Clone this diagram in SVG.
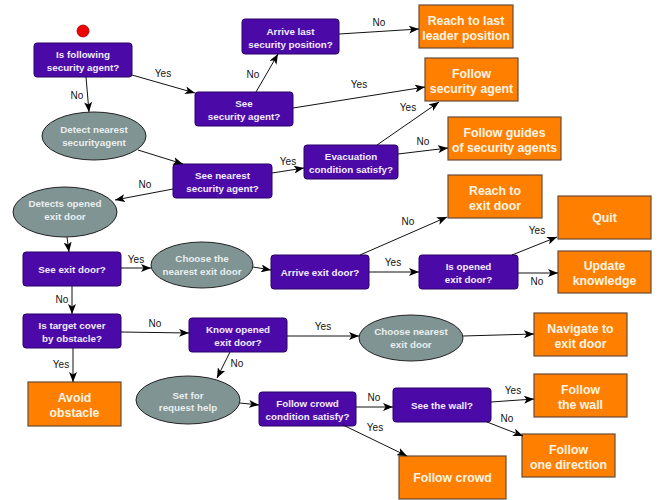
<svg xmlns="http://www.w3.org/2000/svg" width="664" height="500" viewBox="0 0 664 500">
<defs>
<marker id="ah" viewBox="0 0 10 8" refX="10" refY="4" markerWidth="10" markerHeight="8" markerUnits="userSpaceOnUse" orient="auto">
<path d="M0,0 L10,4 L0,8 L2.5,4 z" fill="#000"/>
</marker>
<style>
.d{fill:#4b0aa8;stroke:#2a0066;stroke-width:1}
.a{fill:#ff8000;stroke:#6b4a35;stroke-width:1.2}
.e{fill:#809494;stroke:#222;stroke-width:1}
.dt{font-family:"Liberation Sans",Arial,sans-serif;font-size:9.8px;font-weight:bold;fill:#f2eaff;text-anchor:middle}
.at{font-family:"Liberation Sans",Arial,sans-serif;font-size:12.3px;font-weight:bold;fill:#fff4e6;text-anchor:middle}
.et{font-family:"Liberation Sans",Arial,sans-serif;font-size:9.8px;font-weight:bold;fill:#e8eeee;text-anchor:middle}
.l{font-family:"Liberation Sans",Arial,sans-serif;font-size:10px;fill:#111;text-anchor:middle}
.c{stroke:#111;stroke-width:1;fill:none;marker-end:url(#ah)}
</style>
</defs>
<rect width="664" height="500" fill="#fff"/>
<g id="start"><circle cx="83" cy="31" r="6" fill="#f00000" stroke="#900" stroke-width="0.8"/></g>

<g id="n-following"><rect class="d" x="34" y="43" width="98" height="34" rx="3"/><text class="dt" x="83" y="58">Is following</text><text class="dt" x="83" y="70.5">security agent?</text></g>
<g id="n-arrivelast"><rect class="d" x="242" y="19" width="97" height="35" rx="3"/><text class="dt" x="290.5" y="35">Arrive last</text><text class="dt" x="290.5" y="47.5">security position?</text></g>
<g id="n-reachlast"><rect class="a" x="419" y="5" width="94" height="43"/><text class="at" x="466" y="24.5">Reach to last</text><text class="at" x="466" y="39.5">leader position</text></g>
<g id="n-seesec"><rect class="d" x="195" y="92" width="98" height="34" rx="3"/><text class="dt" x="244" y="107">See</text><text class="dt" x="244" y="119.5">security agent?</text></g>
<g id="n-followsec"><rect class="a" x="425" y="58" width="93" height="43"/><text class="at" x="471.5" y="77.5">Follow</text><text class="at" x="471.5" y="92.5">security agent</text></g>
<g id="n-detect"><ellipse class="e" cx="94" cy="136" rx="52" ry="24"/><text class="et" x="94" y="133">Detect nearest</text><text class="et" x="94" y="146">securityagent</text></g>
<g id="n-seenearest"><rect class="d" x="173" y="164" width="99" height="34" rx="3"/><text class="dt" x="222.5" y="179">See nearest</text><text class="dt" x="222.5" y="191.5">security agent?</text></g>
<g id="n-evac"><rect class="d" x="304" y="145" width="94" height="34" rx="3"/><text class="dt" x="351" y="160">Evacuation</text><text class="dt" x="351" y="172.5">condition satisfy?</text></g>
<g id="n-guides"><rect class="a" x="448" y="117" width="113" height="43"/><text class="at" x="504.5" y="136.5">Follow guides</text><text class="at" x="504.5" y="151.5">of security agents</text></g>
<g id="n-detectsdoor"><ellipse class="e" cx="65" cy="212" rx="52" ry="25"/><text class="et" x="65" y="207">Detects opened</text><text class="et" x="65" y="220">exit door</text></g>
<g id="n-reachexit"><rect class="a" x="448" y="175" width="94" height="43"/><text class="at" x="495" y="194.5">Reach to</text><text class="at" x="495" y="209.5">exit door</text></g>
<g id="n-quit"><rect class="a" x="558" y="196" width="93" height="43"/><text class="at" x="604.5" y="222">Quit</text></g>
<g id="n-seeexit"><rect class="d" x="23" y="252" width="98" height="34" rx="3"/><text class="dt" x="72" y="272.5">See exit door?</text></g>
<g id="n-choosethe"><ellipse class="e" cx="202" cy="265" rx="51" ry="23"/><text class="et" x="202" y="262">Choose the</text><text class="et" x="202" y="275">nearest exit door</text></g>
<g id="n-arriveexit"><rect class="d" x="271" y="255" width="98" height="34" rx="3"/><text class="dt" x="320" y="275.5">Arrive exit door?</text></g>
<g id="n-isopened"><rect class="d" x="419" y="255" width="99" height="34" rx="3"/><text class="dt" x="468.5" y="270">Is opened</text><text class="dt" x="468.5" y="282.5">exit door?</text></g>
<g id="n-update"><rect class="a" x="558" y="251" width="93" height="42"/><text class="at" x="604.5" y="270">Update</text><text class="at" x="604.5" y="285">knowledge</text></g>
<g id="n-target"><rect class="d" x="23" y="314" width="98" height="34" rx="3"/><text class="dt" x="72" y="329">Is target cover</text><text class="dt" x="72" y="341.5">by obstacle?</text></g>
<g id="n-knowopened"><rect class="d" x="189" y="318" width="98" height="34" rx="3"/><text class="dt" x="238" y="333">Know opened</text><text class="dt" x="238" y="345.5">exit door?</text></g>
<g id="n-choosenearest"><ellipse class="e" cx="411" cy="338" rx="52" ry="23"/><text class="et" x="411" y="335">Choose nearest</text><text class="et" x="411" y="348">exit door</text></g>
<g id="n-navigate"><rect class="a" x="534" y="313" width="93" height="43"/><text class="at" x="580.5" y="332.5">Navigate to</text><text class="at" x="580.5" y="347.5">exit door</text></g>
<g id="n-avoid"><rect class="a" x="28" y="382" width="93" height="44"/><text class="at" x="74.5" y="401.5">Avoid</text><text class="at" x="74.5" y="416.5">obstacle</text></g>
<g id="n-request"><ellipse class="e" cx="188" cy="400" rx="52" ry="24"/><text class="et" x="188" y="399">Set for</text><text class="et" x="188" y="411">request help</text></g>
<g id="n-crowdcond"><rect class="d" x="259" y="392" width="97" height="34" rx="3"/><text class="dt" x="307.5" y="407">Follow crowd</text><text class="dt" x="307.5" y="419.5">condition satisfy?</text></g>
<g id="n-seewall"><rect class="d" x="393" y="388" width="98" height="34" rx="3"/><text class="dt" x="442" y="408.5">See the wall?</text></g>
<g id="n-followwall"><rect class="a" x="534" y="374" width="93" height="43"/><text class="at" x="580.5" y="393.5">Follow</text><text class="at" x="580.5" y="408.5">the wall</text></g>
<g id="n-onedir"><rect class="a" x="522" y="434" width="93" height="43"/><text class="at" x="568.5" y="453.5">Follow</text><text class="at" x="568.5" y="468.5">one direction</text></g>
<g id="n-followcrowd"><rect class="a" x="399" y="456" width="107" height="43"/><text class="at" x="452.5" y="482">Follow crowd</text></g>

<g id="connectors">
<line class="c" x1="132" y1="75" x2="195" y2="93"/>
<line class="c" x1="86" y1="77" x2="89" y2="112"/>
<line class="c" x1="256" y1="92" x2="278" y2="54"/>
<line class="c" x1="339" y1="34" x2="419" y2="29"/>
<line class="c" x1="293" y1="108" x2="425" y2="87"/>
<line class="c" x1="138" y1="150" x2="183" y2="164"/>
<line class="c" x1="272" y1="173" x2="304" y2="168"/>
<line class="c" x1="377" y1="145" x2="439" y2="102"/>
<line class="c" x1="398" y1="154" x2="448" y2="148"/>
<line class="c" x1="173" y1="189" x2="115" y2="200"/>
<line class="c" x1="67" y1="237" x2="69" y2="252"/>
<line class="c" x1="121" y1="268" x2="151" y2="268"/>
<line class="c" x1="253" y1="267" x2="271" y2="270"/>
<line class="c" x1="360" y1="255" x2="447" y2="217"/>
<line class="c" x1="369" y1="272" x2="419" y2="272"/>
<line class="c" x1="512" y1="255" x2="557" y2="237"/>
<line class="c" x1="518" y1="273" x2="558" y2="273"/>
<line class="c" x1="72" y1="286" x2="72" y2="314"/>
<line class="c" x1="121" y1="332" x2="189" y2="333"/>
<line class="c" x1="73" y1="348" x2="73" y2="382"/>
<line class="c" x1="287" y1="336" x2="359" y2="336"/>
<line class="c" x1="463" y1="336" x2="534" y2="334"/>
<line class="c" x1="230" y1="352" x2="217" y2="378"/>
<line class="c" x1="240" y1="403" x2="259" y2="405"/>
<line class="c" x1="356" y1="407" x2="393" y2="407"/>
<line class="c" x1="491" y1="402" x2="534" y2="399"/>
<line class="c" x1="487" y1="422" x2="523" y2="436"/>
<line class="c" x1="343" y1="425" x2="407" y2="456"/>
<text class="l" x="163" y="77">Yes</text>
<text class="l" x="77" y="99">No</text>
<text class="l" x="253" y="78">No</text>
<text class="l" x="379" y="26">No</text>
<text class="l" x="359" y="88">Yes</text>
<text class="l" x="288" y="165">Yes</text>
<text class="l" x="408" y="111">Yes</text>
<text class="l" x="423" y="145">No</text>
<text class="l" x="145" y="188">No</text>
<text class="l" x="136" y="263">Yes</text>
<text class="l" x="408" y="225">No</text>
<text class="l" x="393" y="266">Yes</text>
<text class="l" x="537" y="234">Yes</text>
<text class="l" x="537" y="285">No</text>
<text class="l" x="62" y="303">No</text>
<text class="l" x="155" y="327">No</text>
<text class="l" x="61" y="368">Yes</text>
<text class="l" x="323" y="330">Yes</text>
<text class="l" x="237" y="367">No</text>
<text class="l" x="374" y="401">No</text>
<text class="l" x="513" y="394">Yes</text>
<text class="l" x="507" y="422">No</text>
<text class="l" x="375" y="431">Yes</text>
</g>
</svg>
